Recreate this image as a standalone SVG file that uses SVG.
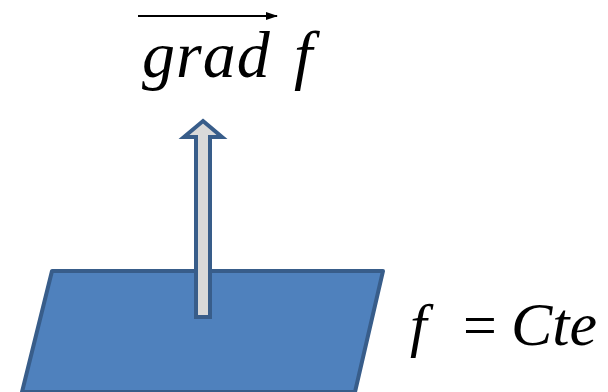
<svg xmlns="http://www.w3.org/2000/svg" width="608" height="392" viewBox="0 0 608 392">
<style>
.m{font-family:'Liberation Serif','Times New Roman',serif;font-style:italic;fill:#000}
.r{font-family:'Liberation Serif','Times New Roman',serif;fill:#000}
</style>
<defs>
<marker id="ah" markerWidth="12" markerHeight="8" refX="11" refY="4" orient="auto" markerUnits="userSpaceOnUse">
<path d="M0,0 L12,4 L0,8 Z" fill="#000"/>
</marker>
</defs>
<rect width="608" height="392" fill="#fff"/>
<g id="plane">
<polygon points="52,271 383,271 355,392 22,392" fill="#4F81BD" stroke="#385D8A" stroke-width="4" stroke-linejoin="round"/>
</g>
<g id="gradient-arrow">
<polygon points="203,121 222,137 210,137 210,317 196,317 196,137 184,137" fill="#D9D9D9" stroke="#385D8A" stroke-width="4"/>
</g>
<g id="label-grad">
<line x1="138" y1="16" x2="277" y2="16" stroke="#000" stroke-width="2" marker-end="url(#ah)"/>
<text class="m" x="142" y="77" font-size="66" letter-spacing="1">grad</text>
<text class="m" x="294" y="77" font-size="66">f</text>
</g>
<g id="label-level">
<text class="m" x="410" y="345" font-size="60">f</text>
<text class="r" x="463" y="345" font-size="60">=</text>
<text class="m" x="511" y="345" font-size="62">Cte</text>
</g>
</svg>
